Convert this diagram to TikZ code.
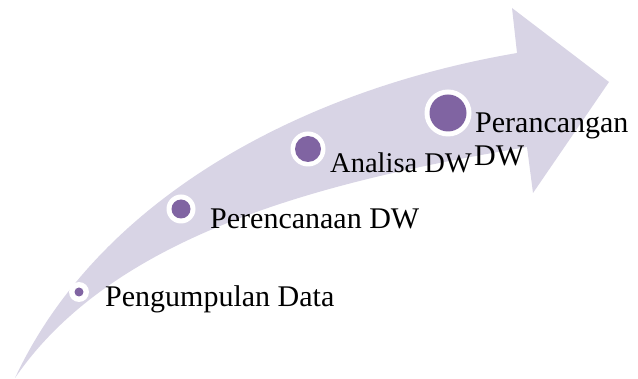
\documentclass[tikz,border=0pt]{standalone}
\usepackage{fontspec}
\setmainfont{Liberation Serif}
\definecolor{arrowfill}{RGB}{216,212,229}
\definecolor{dotpurple}{RGB}{128,100,162}
\tikzset{
  ring/.style={circle, fill=white, inner sep=0pt},
  dot/.style={circle, fill=dotpurple, inner sep=0pt},
  lbl/.style={anchor=base west, inner sep=0pt, font=\fontsize{30}{33}\selectfont, text=black}
}
\begin{document}
\begin{tikzpicture}[x=1pt,y=-1pt]
\useasboundingbox (0,0) rectangle (638,379);
% curved arrow
\fill[arrowfill] (15,378) .. controls (98,200) and (300,90) .. (517,53)
  -- (512,8) -- (609,82) -- (533,193) -- (527,147)
  .. controls (330,180) and (115,232) .. (15,378) -- cycle;
% circles
\node[ring, minimum size=20pt] (c1) at (79,292) {};
\node[dot, minimum size=9pt] (d1) at (c1) {};
\node[ring, minimum size=29pt] (c2) at (181,209) {};
\node[dot, minimum size=19pt] (d2) at (c2) {};
\node[ring, minimum size=35pt] (c3) at (308,149) {};
\node[dot, minimum size=26pt] (d3) at (c3) {};
\node[ring, minimum size=47pt] (c4) at (448,113) {};
\node[dot, minimum size=37pt] (d4) at (c4) {};
% labels
\node[lbl] (t1) at (105,307) {Pengumpulan Data};
\node[lbl] (t2) at (210,229) {Perencanaan DW};
\node[lbl, font=\fontsize{28.5}{33}\selectfont] (t3) at (330,173) {Analisa DW};
\node[lbl] (t4) at (475,133) {Perancangan};
\node[lbl] (t5) at (474,166) {DW};
\end{tikzpicture}
\end{document}
